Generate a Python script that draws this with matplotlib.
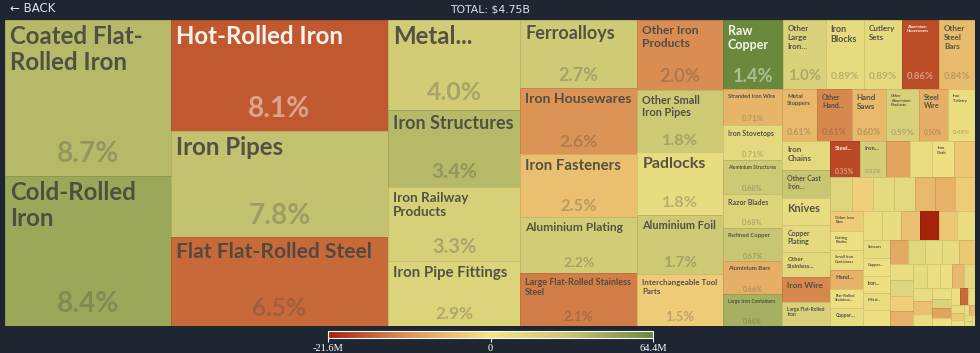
import re
import math
import matplotlib
matplotlib.use("Agg")
import matplotlib.pyplot as plt
from matplotlib.colors import LinearSegmentedColormap, TwoSlopeNorm
from matplotlib.patches import Rectangle
from matplotlib.font_manager import FontProperties
from matplotlib.textpath import TextToPath
from matplotlib.cm import ScalarMappable

# product names (empty where the tile carries no label)
names = [
    "Coated Flat-Rolled Iron", "Cold-Rolled Iron", "Hot-Rolled Iron", "Iron Pipes",
    "Flat Flat-Rolled Steel", "Metal...", "Iron Structures", "Iron Railway Products",
    "Iron Pipe Fittings", "Ferroalloys", "Iron Housewares", "Iron Fasteners",
    "Aluminium Plating", "Large Flat-Rolled Stainless Steel", "Other Iron Products",
    "Other Small Iron Pipes", "Padlocks", "Aluminium Foil", "Interchangeable Tool Parts",
    "Raw Copper", "Other Large Iron...", "Iron Blocks", "Cutlery Sets",
    "Aluminium Housewares", "Other Steel Bars",
    "Stranded Iron Wire", "Iron Stovetops", "Aluminium Structures", "Razor Blades",
    "Refined Copper", "Aluminium Bars", "Large Iron Containers",
    "Metal Stoppers", "Other Hand...", "Hand Saws", "Other Aluminium Products",
    "Steel Wire", "Iron Toiletry",
    "Iron Chains", "Other Cast Iron...", "Knives", "Copper Plating", "Other Stainless...",
    "Iron Wire", "Large Flat-Rolled Iron",
    "Steel...", "Iron...", "", "", "Iron Cloth", "",
    "", "", "", "", "", "", "",
    "Other Iron Bars", "Cutting Blades", "Small Iron Containers", "Hand...",
    "Flat-Rolled Stainless...", "Copper...",
    "", "", "", "", "", "",
    "Scissors", "Copper...", "Iron...", "Metal...", "",
    "", "", "", "", "", "", "", "", "", "", "", "", "", "", "", "",
    "", "", "", "", "", "", "", "", "", "", "", "", "", "", "", "",
]

# share of total exports, %
shares = [
    8.7, 8.4, 8.1, 7.8,
    6.5, 4.0, 3.4, 3.3,
    2.9, 2.7, 2.6, 2.5,
    2.2, 2.1, 2.0,
    1.8, 1.8, 1.7, 1.5,
    1.4, 1.0, 0.89, 0.89,
    0.86, 0.84,
    0.71, 0.71, 0.68, 0.68,
    0.67, 0.66, 0.64,
    0.61, 0.61, 0.60, 0.59,
    0.50, 0.48,
    0.47, 0.45, 0.44, 0.43, 0.41,
    0.40, 0.39,
    0.35, 0.32, 0.28, 0.27, 0.26, 0.25,
    0.245, 0.24, 0.24, 0.235, 0.23, 0.23, 0.225,
    0.22, 0.215, 0.21, 0.21,
    0.205, 0.20,
    0.195, 0.19, 0.19, 0.185, 0.185, 0.18,
    0.165, 0.16, 0.16, 0.155, 0.15,
    0.14, 0.14, 0.135, 0.13, 0.13, 0.125, 0.12, 0.12, 0.115, 0.11, 0.105, 0.10, 0.095, 0.09, 0.085, 0.08,
    0.075, 0.07, 0.065, 0.06, 0.055, 0.05, 0.045, 0.04, 0.035, 0.03, 0.025, 0.02, 0.02, 0.015, 0.015, 0.01,
]

# net trade balance, millions USD (drives the colour)
balance = [
    38, 47, -16.5, 33,
    -15, 24, 38, 21,
    17, 26, -11, -5,
    24, -13, -11.5,
    27, 9, 27, -3.4,
    64.4, 19, 10, 10.5,
    -17.6, -5.6,
    -6.5, 12, 27, 17,
    30, -7.3, 43,
    -6.2, -12, -6.2, 20,
    -7.3, 8,
    12, 30, 9, 12, 13,
    -12, 20,
    -18, 22, -9, 8, 6, -4,
    15, -3, 11, 12, -6, -7, -3.5,
    -3.5, 6, 8, -7,
    6, 9,
    8, 9, -5, -21.6, -4, 8,
    9, 6, 6, 8, 5,
    -8, 14, 9, 9, -4, 8, 16, -3, -7, 10, 7, 5, -6, 12, 9, -5,
    8, 7, 18, -9, 6, 5, -15, 8, 9, -4, 6, 7, -6, 9, 8, 7,
]

total_label = "TOTAL: $4.75B"
bar_ticks = [-21.6, 0, 64.4]
bar_labels = ["-21.6M", "0", "64.4M"]

BG = "#1f2631"
W, H = 970, 306
PHI = (1 + 5 ** 0.5) / 2


def squarify(values, x0, y0, x1, y1, ratio=PHI):
    # same steps as d3.treemapSquarify
    rects = [None] * len(values)
    value = sum(values)
    n = len(values)
    i0 = i1 = 0
    while i0 < n:
        dx, dy = x1 - x0, y1 - y0
        s = values[i1]
        i1 += 1
        lo = hi = s
        alpha = max(dy / dx, dx / dy) / (value * ratio)
        beta = s * s * alpha
        best = max(hi / beta, beta / lo)
        while i1 < n:
            v = values[i1]
            s2 = s + v
            lo2, hi2 = min(lo, v), max(hi, v)
            beta = s2 * s2 * alpha
            r = max(hi2 / beta, beta / lo2)
            if r > best:
                break
            s, lo, hi, best = s2, lo2, hi2, r
            i1 += 1
        if dx < dy:
            yb = y0 + dy * s / value
            xa = x0
            for k in range(i0, i1):
                w = dx * values[k] / s
                rects[k] = (xa, y0, w, yb - y0)
                xa += w
            y0 = yb
        else:
            xb = x0 + dx * s / value
            ya = y0
            for k in range(i0, i1):
                h = dy * values[k] / s
                rects[k] = (x0, ya, xb - x0, h)
                ya += h
            x0 = xb
        value -= s
        i0 = i1
    return rects


fp = FontProperties(family="Lato", weight="bold", size=100)
t2p = TextToPath()
_cache = {}


def text_w(s, px):
    if s not in _cache:
        _cache[s] = t2p.get_text_width_height_descent(s, fp, ismath=False)[0] / 100
    return _cache[s] * px


def wrap(name, px, maxw):
    toks = []
    for word in name.split():
        parts = re.findall(r"[^-]+-?|-", word)
        for j, p in enumerate(parts):
            toks.append((p, j == 0))
    lines, cur = [], ""
    for p, sp in toks:
        cand = cur + (" " if sp and cur else "") + p
        if cur and text_w(cand, px) > maxw:
            lines.append(cur)
            cur = p
        else:
            cur = cand
    lines.append(cur)
    if any(text_w(l, px) > maxw for l in lines):
        return None
    return lines


def fit(name, w, h, fmax=24, fmin=4):
    # shrink the font by area first, then step down until the wrapped text fits
    if w <= 2 or h <= 2:
        return None
    words = re.findall(r"[^\s-]+-?", name)
    sizes = [text_w(wd, fmax) for wd in words]
    lh = fmax * 1.2
    area_mod = 1.165 + w / h * 0.1
    text_area = sum(sizes) * lh * area_mod
    fs = fmax
    if max(sizes) > w or text_area > w * h:
        fs = math.floor(fmax * min(math.sqrt(w * h / text_area), w / max(sizes)))
    fs = max(fmin, min(fmax, fs))
    while fs >= fmin:
        lines = wrap(name, fs, w)
        if lines and len(lines) * fs * 1.2 <= h + 1:
            return fs, lines
        fs -= 0.5
    return None


cmap = LinearSegmentedColormap.from_list("trade", [
    (0.0, "#a5230a"), (0.25, "#de9658"), (0.5, "#f5e585"),
    (0.75, "#c6c472"), (1.0, "#6a893c")])
norm = TwoSlopeNorm(vmin=-21.6, vcenter=0, vmax=64.4)

fig = plt.figure(figsize=(9.8, 3.53), dpi=100, facecolor=BG)
ax = fig.add_axes([5 / 980, (353 - 326) / 353, W / 980, H / 353])
ax.set_xlim(0, W)
ax.set_ylim(H, 0)
ax.axis("off")

PT = 0.72  # px -> points at 100 dpi
pad = 5
rects = squarify(shares, 0, 0, W, H)
for name, v, b, (x, y, w, h) in zip(names, shares, balance, rects):
    c = cmap(norm(b))
    edge = tuple(ch * 0.9 for ch in c[:3])
    ax.add_patch(Rectangle((x, y), w, h, facecolor=c, edgecolor=edge, lw=0.7))
    yiq = (c[0] * 299 + c[1] * 587 + c[2] * 114) / 1000 * 255
    light = yiq < 121
    tc = "white" if light else "#48483f"
    if not name:
        continue
    sh = min(50, (h - 2 * pad) * 0.5)
    share_txt = f"{v:.1f}%" if v >= 1 else f"{v:.2f}%"
    spx = min(28, 0.62 * sh, (w - 2 * pad) / text_w(share_txt, 1)) if sh > 0 else 0
    show_share = sh >= 10 and spx >= 5
    lab_h = (h - sh - 2 * pad) if show_share else (h - 2 * pad)
    res = fit(name, w - 2 * pad, lab_h)
    if res is None:
        continue
    px, lines = res
    for i, line in enumerate(lines):
        ax.text(x + pad, y + pad + i * px * 1.1, line, fontsize=px * PT,
                color=tc, alpha=0.92, family="Lato",
                weight="bold", va="top", ha="left")
    if show_share:
        ax.text(x + w / 2, y + h - 0.44 * sh, share_txt, fontsize=spx * PT,
                color=tc, alpha=0.3 if not light else 0.45, family="Lato",
                weight="bold", va="center", ha="center")

# header
fig.text(10 / 980, 1 - 8 / 353, "\u2190 BACK", color="#dfe3e8", fontsize=8.5,
         va="center", ha="left", family="DejaVu Sans")
fig.text(0.5, 1 - 10 / 353, total_label, color="#dfe3e8", fontsize=7.8,
         va="center", ha="center", family="DejaVu Sans")

# colour legend
cax = fig.add_axes([328 / 980, (353 - 338) / 353, 325 / 980, 7 / 353])
cb = fig.colorbar(ScalarMappable(norm=norm, cmap=cmap), cax=cax, orientation="horizontal")
cb.set_ticks(bar_ticks)
cb.set_ticklabels(bar_labels)
cb.outline.set_edgecolor("white")
cb.outline.set_linewidth(0.8)
cax.tick_params(colors="white", labelcolor="white", length=3, width=0.8,
                labelsize=7.5, pad=1)
for lab in cax.get_xticklabels():
    lab.set_family("Liberation Serif")

fig.savefig("out.png", dpi=100, facecolor=BG)
